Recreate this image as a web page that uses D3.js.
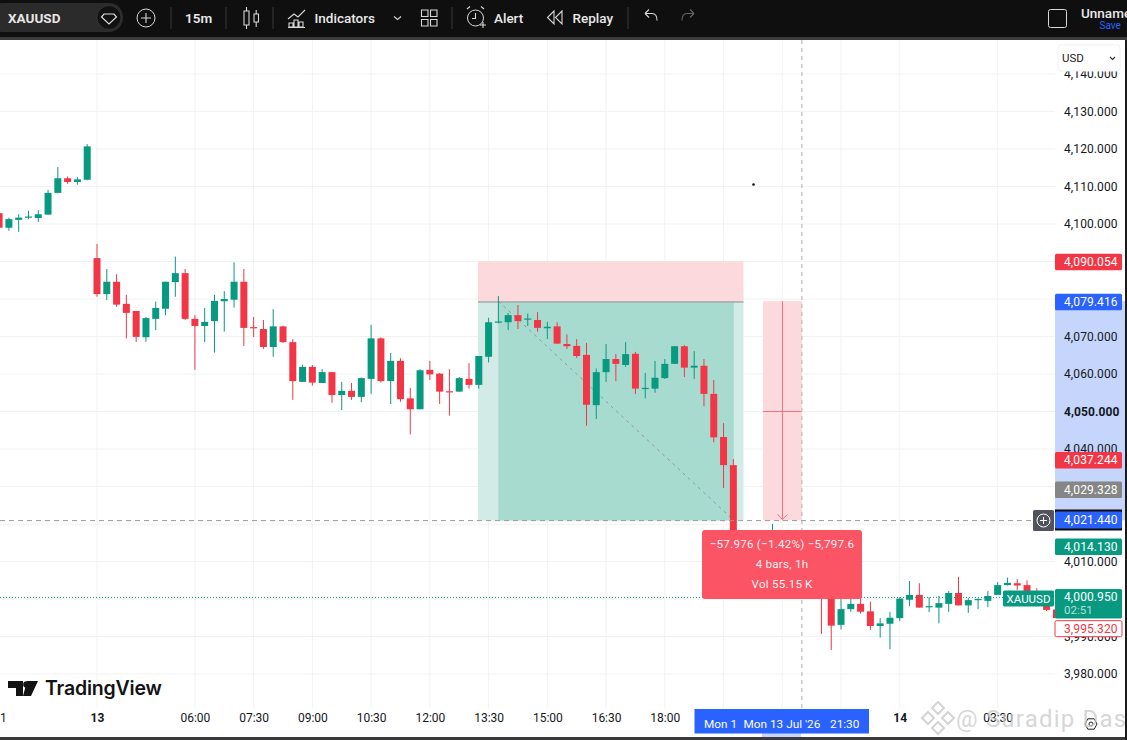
<!DOCTYPE html>
<html>
<head>
<meta charset="utf-8">
<script src="https://cdn.jsdelivr.net/npm/d3@7"></script>
<style>
    html, body { margin: 0; padding: 0; background: #fff; overflow: hidden; }
    svg { display: block; font-family: Roboto, sans-serif; }
</style>
</head>
<body>
<script>
// 15m bars, first one is bar -10 (bar 0 is the "13" session open)
var firstBar = -10;
var opens = [
    4102.9,4099.0,4101.1,4101.7,4101.6,4102.5,4108.3,4112.2,4111.2,4111.8,
    4090.9,4081.3,4084.6,4078.7,4076.8,4069.8,4074.7,4077.4,4084.5,4086.9,
    4074.7,4072.8,4074.1,4079.4,4079.8,4084.6,4072.5,4072.0,4067.2,4072.7,
    4068.5,4057.9,4061.9,4057.6,4060.5,4054.4,4055.5,4053.9,4058.7,4069.5,
    4058.1,4063.5,4053.5,4050.6,4061.1,4060.1,4055.4,4055.3,4058.7,4057.1,
    4064.6,4073.7,4073.8,4075.7,4074.5,4074.4,4072.2,4072.7,4068.0,4067.5,
    4065.1,4051.7,4060.5,4064.0,4062.4,4065.4,4056.1,4056.1,4058.9,4062.7,
    4067.4,4061.7,4062.2,4054.7,4043.2,4035.7,4014.0,4010.0,4012.0,4013.0,
    4014.0,4009.0,4006.0,4009.0,4005.0,4001.0,3993.1,3997.3,3998.7,3996.7,
    3992.8,3993.4,3994.9,3999.8,4001.1,3997.9,3997.7,3998.7,4001.6,3998.3,
    3999.8,3999.5,4001.1,4003.7,4004.2,4003.7,4001.3,3998.4,3997.2
];
var highs = [
    4103.0,4101.7,4102.6,4103.5,4103.7,4109.1,4115.2,4112.7,4112.5,4121.3,
    4094.7,4088.0,4086.6,4081.1,4076.8,4075.2,4079.3,4084.6,4091.3,4088.0,
    4075.7,4077.6,4081.1,4082.1,4089.8,4088.0,4075.2,4074.4,4077.3,4072.9,
    4069.3,4062.5,4062.4,4061.3,4060.5,4057.9,4057.6,4059.1,4073.1,4069.8,
    4065.6,4064.2,4056.3,4061.3,4063.5,4060.3,4061.3,4059.2,4062.9,4064.8,
    4075.0,4080.8,4076.3,4078.4,4076.1,4076.5,4073.9,4073.8,4070.6,4069.3,
    4068.3,4061.5,4068.0,4065.3,4068.5,4065.9,4060.3,4063.5,4064.0,4067.5,
    4067.7,4066.1,4064.0,4058.4,4046.9,4037.3,4016.0,4014.0,4017.0,4020.0,
    4016.0,4012.0,4011.0,4011.0,4008.0,4003.0,4000.0,4001.0,4001.0,3999.3,
    3994.9,3996.5,4000.5,4004.8,4004.2,4000.5,4000.8,4002.1,4005.9,4000.2,
    4000.2,4002.1,4004.5,4005.7,4005.3,4005.0,4002.9,3999.7,3997.5
];
var lows = [
    4099.0,4098.2,4097.9,4101.3,4100.5,4102.5,4108.2,4110.7,4110.5,4111.7,
    4080.6,4079.7,4077.9,4069.5,4068.5,4068.6,4071.7,4075.7,4080.6,4074.4,
    4061.1,4068.5,4065.7,4071.3,4077.7,4067.5,4069.9,4066.7,4064.6,4068.3,
    4053.1,4057.9,4056.9,4057.6,4052.3,4050.4,4053.1,4052.5,4054.7,4057.7,
    4052.0,4052.6,4043.9,4050.6,4058.4,4052.0,4048.9,4055.3,4056.1,4056.1,
    4063.1,4073.5,4071.7,4072.0,4072.8,4071.3,4069.3,4068.1,4066.7,4064.3,
    4046.2,4048.0,4057.9,4058.1,4061.9,4054.7,4053.5,4055.0,4058.7,4062.7,
    4059.2,4058.7,4051.4,4041.8,4029.6,4008.0,4008.0,4006.0,4009.0,4008.0,
    4007.0,4004.0,4003.0,4003.0,3990.7,3986.4,3991.9,3996.6,3996.1,3991.7,
    3989.7,3986.6,3994.1,3998.1,3997.7,3996.5,3993.5,3996.6,3998.3,3996.3,
    3997.3,3997.8,4001.1,4003.6,4002.4,4000.8,3999.2,3996.8,3993.0
];
var closes = [
    4099.0,4101.3,4101.7,4102.0,4102.6,4108.3,4112.2,4111.2,4111.9,4120.7,
    4081.3,4084.6,4078.5,4076.3,4069.9,4074.9,4077.6,4084.6,4086.9,4074.7,
    4072.8,4073.9,4079.5,4080.0,4084.6,4072.3,4072.2,4067.2,4072.7,4068.5,
    4058.1,4061.9,4057.7,4060.5,4054.4,4055.5,4053.9,4058.9,4069.5,4058.1,
    4063.5,4053.3,4050.6,4061.0,4059.9,4055.3,4055.2,4058.9,4057.1,4064.8,
    4073.8,4074.0,4075.7,4074.1,4074.8,4072.3,4072.6,4068.1,4067.4,4064.8,
    4051.8,4060.5,4064.0,4062.7,4065.3,4056.1,4056.3,4059.0,4062.7,4067.4,
    4061.7,4062.2,4054.7,4043.1,4035.7,4010.0,4010.0,4012.0,4015.0,4016.0,
    4009.0,4006.0,4009.0,4005.0,4001.0,3992.9,3997.3,3998.7,3996.6,3992.8,
    3993.5,3995.0,4000.1,4001.1,3997.7,3998.1,3998.9,4001.6,3998.3,3999.7,
    4000.0,4000.8,4003.7,4004.3,4003.6,4001.3,3999.7,3997.1,3994.9
];

var priceTicks = [4140,4130,4120,4110,4100,4090,4080,4070,4060,4050,4040,4030,4020,4010,4000,3990,3980];
var timeBars = [-10,0,10,16,22,28,34,40,46,52,58,64,70,76,82,92];
var timeLabels = ['1','13','06:00','07:30','09:00','10:30','12:00','13:30','15:00','16:30','18:00','','','','14','03:30'];

// long position drawing and price labels
var takeProfit = 4021.44, entry = 4079.416, stop = 4090.054;
var positionBars = [-2 + 40.1, 65.8];

var W = 1127, H = 740, paneRight = 1055, paneTop = 40, paneBottom = 708;
var green = '#089981', red = '#f23645', blue = '#2962ff';

var x = d3.scaleLinear().domain([0, 98]).range([97, 1056.4]);
var y = d3.scaleLinear().domain([3980, 4130]).range([674, 111.5]);
var fmt = d3.format(',.3f');

var svg = d3.select('body').append('svg').attr('width', W).attr('height', H);
svg.append('rect').attr('width', W).attr('height', H).attr('fill', '#fff');

svg.append('defs').append('clipPath').attr('id', 'pane')
    .append('rect').attr('x', 0).attr('y', paneTop).attr('width', paneRight).attr('height', paneBottom - paneTop);

var pane = svg.append('g').attr('clip-path', 'url(#pane)');

// grid
pane.selectAll('.hgrid').data(priceTicks).enter().append('line')
    .attr('x1', 0).attr('x2', paneRight)
    .attr('y1', function(d){ return y(d) }).attr('y2', function(d){ return y(d) })
    .attr('stroke', '#f2f2f2').attr('stroke-width', 1);
pane.selectAll('.vgrid').data(timeBars).enter().append('line')
    .attr('x1', function(d){ return x(d) }).attr('x2', function(d){ return x(d) })
    .attr('y1', paneTop).attr('y2', paneBottom)
    .attr('stroke', '#f2f2f2').attr('stroke-width', 1);

// position box
var zoneLeft = 478, zoneRight = 743.5, innerLeft = x(41), innerRight = x(65) + 0.5;
var zoneBottom = y(takeProfit) + 1.8;
pane.append('rect').attr('x', zoneLeft).attr('y', y(stop)).attr('width', zoneRight - zoneLeft)
    .attr('height', y(entry) - y(stop)).attr('fill', '#fcd9dc');
pane.append('rect').attr('x', zoneLeft).attr('y', y(entry)).attr('width', zoneRight - zoneLeft)
    .attr('height', zoneBottom - y(entry)).attr('fill', '#d2ebe6');
pane.append('rect').attr('x', innerLeft).attr('y', y(entry)).attr('width', innerRight - innerLeft)
    .attr('height', zoneBottom - y(entry)).attr('fill', '#a8dbd0');
pane.append('line').attr('x1', zoneLeft).attr('x2', zoneRight)
    .attr('y1', y(entry) + 0.8).attr('y2', y(entry) + 0.8)
    .attr('stroke', '#a9a9a9').attr('stroke-width', 1.3);
pane.append('line').attr('x1', innerLeft).attr('x2', innerRight)
    .attr('y1', y(entry)).attr('y2', zoneBottom)
    .attr('stroke', '#8f9a98').attr('stroke-width', 1).attr('stroke-dasharray', '3,4');

// measure tool
var measureLeft = 763, measureRight = 802, measureMid = (measureLeft + measureRight) / 2;
pane.append('rect').attr('x', measureLeft).attr('y', y(entry)).attr('width', measureRight - measureLeft)
    .attr('height', zoneBottom - y(entry)).attr('fill', '#fcd9dc');
pane.append('line').attr('x1', measureLeft).attr('x2', measureRight)
    .attr('y1', y(4050)).attr('y2', y(4050)).attr('stroke', '#f0747f').attr('stroke-width', 1);
pane.append('line').attr('x1', measureMid).attr('x2', measureMid)
    .attr('y1', y(entry)).attr('y2', zoneBottom).attr('stroke', '#f0747f').attr('stroke-width', 1);
pane.append('path')
    .attr('d', d3.line()([[measureMid - 5, zoneBottom - 6], [measureMid, zoneBottom - 1], [measureMid + 5, zoneBottom - 6]]))
    .attr('fill', 'none').attr('stroke', '#f0747f').attr('stroke-width', 1);

// candles
var bars = d3.range(opens.length);
var candle = pane.selectAll('.bar').data(bars).enter().append('g').attr('class', 'bar');
function barColor(i) { return closes[i] >= opens[i] ? green : red }
candle.append('line')
    .attr('x1', function(i){ return x(i + firstBar) }).attr('x2', function(i){ return x(i + firstBar) })
    .attr('y1', function(i){ return y(highs[i]) }).attr('y2', function(i){ return y(lows[i]) })
    .attr('stroke', barColor).attr('stroke-width', 1);
candle.append('rect')
    .attr('x', function(i){ return x(i + firstBar) - 3.5 })
    .attr('width', 7)
    .attr('y', function(i){ return y(Math.max(opens[i], closes[i])) })
    .attr('height', function(i){ return Math.max(1.2, Math.abs(y(opens[i]) - y(closes[i]))) })
    .attr('fill', barColor);

// last price line and crosshair
var crossY = zoneBottom + 0.2, crossX = x(72);
pane.append('line').attr('x1', 0).attr('x2', paneRight)
    .attr('y1', y(4000.95) + 2).attr('y2', y(4000.95) + 2)
    .attr('stroke', green).attr('stroke-width', 1).attr('stroke-dasharray', '1,2');
pane.append('line').attr('x1', crossX).attr('x2', crossX)
    .attr('y1', paneTop).attr('y2', paneBottom)
    .attr('stroke', '#c4c4c4').attr('stroke-width', 1.4).attr('stroke-dasharray', '4,4');
pane.append('line').attr('x1', 0).attr('x2', 1033)
    .attr('y1', crossY).attr('y2', crossY)
    .attr('stroke', '#9a9a9a').attr('stroke-width', 1).attr('stroke-dasharray', '5,4');

svg.append('circle').attr('cx', 753.5).attr('cy', 184.5).attr('r', 1.3).attr('fill', '#111');

// measure tooltip
var tip = svg.append('g');
tip.append('rect').attr('x', 702).attr('y', 530).attr('width', 160).attr('height', 69)
    .attr('rx', 3).attr('fill', '#fb5464');
['\u221257.976 (\u22121.42%) \u22125,797.6', '4 bars, 1h', 'Vol 55.15\u2009K'].forEach(function(t, k){
    tip.append('text').attr('x', 782).attr('y', 548 + k * 20).attr('text-anchor', 'middle')
        .attr('font-size', 11.6).attr('letter-spacing', 0.25).attr('fill', '#fff').attr('fill-opacity', 0.95).text(t);
});

// price axis
svg.append('rect').attr('x', paneRight).attr('y', paneTop).attr('width', W - paneRight).attr('height', paneBottom - paneTop + 30).attr('fill', '#fff');
svg.append('rect').attr('x', paneRight).attr('y', y(entry)).attr('width', 70).attr('height', zoneBottom - y(entry)).attr('fill', '#c5d5fb');

var axisY = d3.axisRight(y).tickValues(priceTicks).tickSize(0).tickPadding(9).tickFormat(fmt);
var $y = svg.append('g').attr('transform', 'translate(' + paneRight + ',0)').call(axisY);
$y.select('.domain').remove();
$y.selectAll('text').attr('font-size', 12).attr('font-family', 'Roboto, sans-serif').attr('fill', '#131722')
    .attr('letter-spacing', 0.1)
    .attr('font-weight', function(d){ return d === 4050 ? 700 : 400 });

function priceLabel(cy, h, fill, txt, color, stroke) {
    svg.append('rect').attr('x', paneRight).attr('y', cy - h / 2).attr('width', 67).attr('height', h)
        .attr('rx', 1.5).attr('fill', fill).attr('stroke', stroke || 'none');
    svg.append('text').attr('x', 1064).attr('y', cy + 4.3).attr('font-size', 12).attr('letter-spacing', 0.1)
        .attr('fill', color || '#fff').text(txt);
}
var labelPrices = [4090.054, 4079.416, 4037.244, 4029.328, 4014.130];
var labelFills = [red, blue, red, '#868686', green];
labelPrices.forEach(function(p, k){
    priceLabel(y(p) + 0.8, 16.5, labelFills[k], fmt(p));
});

// crosshair price + plus button
svg.append('rect').attr('x', paneRight).attr('y', 509.5).attr('width', 67).attr('height', 21).attr('fill', '#0b0b0b');
priceLabel(520, 17, blue, fmt(takeProfit));
svg.append('rect').attr('x', 1033).attr('y', 510).attr('width', 21).attr('height', 21).attr('rx', 1.5).attr('fill', '#50535e');
svg.append('circle').attr('cx', 1043.5).attr('cy', 520.5).attr('r', 6.5).attr('fill', 'none').attr('stroke', '#fff').attr('stroke-width', 1);
svg.append('path').attr('d', 'M1040 520.5H1047M1043.5 517V524').attr('stroke', '#fff').attr('stroke-width', 1);

// last price label
svg.append('rect').attr('x', paneRight).attr('y', 589).attr('width', 67).attr('height', 29.5).attr('rx', 1.5).attr('fill', green);
svg.append('text').attr('x', 1064).attr('y', 601).attr('font-size', 12).attr('letter-spacing', 0.1).attr('fill', '#fff').text(fmt(4000.95));
svg.append('text').attr('x', 1064).attr('y', 614).attr('font-size', 11.5).attr('fill', '#fff').attr('fill-opacity', 0.7).text('02:51');
svg.append('rect').attr('x', 1003).attr('y', 590.5).attr('width', 51).attr('height', 16).attr('rx', 1.5).attr('fill', green);
svg.append('text').attr('x', 1028.5).attr('y', 602.5).attr('text-anchor', 'middle').attr('font-size', 11.5).attr('fill', '#fff').text('XAUUSD');
priceLabel(628.7, 16, '#fff', fmt(3995.32), red, red);

// USD dropdown
svg.append('rect').attr('x', 1058).attr('y', 45).attr('width', 62).attr('height', 26).attr('rx', 3)
    .attr('fill', '#fff').attr('stroke', '#f1f1f1');
svg.append('text').attr('x', 1062).attr('y', 62).attr('font-size', 11.5).attr('fill', '#222').text('USD');
svg.append('path').attr('d', 'M1110 57l2.5 2.5l2.5-2.5').attr('fill', 'none').attr('stroke', '#333').attr('stroke-width', 1.1);

// time axis
var axisX = d3.axisBottom(x).tickValues(timeBars).tickSize(0).tickPadding(0)
    .tickFormat(function(d){ return timeLabels[timeBars.indexOf(d)] });
var $x = svg.append('g').attr('transform', 'translate(0,' + (paneBottom + 5) + ')').call(axisX);
$x.select('.domain').remove();
$x.selectAll('text').attr('font-size', 12).attr('font-family', 'Roboto, sans-serif').attr('fill', '#131722')
    .attr('font-weight', function(d){ return d === 0 || d === 82 ? 700 : 400 })
    .attr('text-anchor', function(d){ return d === -10 ? 'start' : 'middle' })
    .attr('dx', function(d){ return d === -10 ? 0.5 : 0 });

svg.append('rect').attr('x', 762).attr('y', 733).attr('width', 39).attr('height', 4).attr('fill', '#c5d5fb');
svg.append('rect').attr('x', 694.5).attr('y', 709).attr('width', 174.5).attr('height', 24.5).attr('fill', blue);
svg.append('text').attr('x', 704).attr('y', 727.5).attr('font-size', 11.8).attr('fill', '#fff').text('Mon 1');
svg.append('text').attr('x', 743.5).attr('y', 727.5).attr('font-size', 11.8).attr('fill', '#fff').text("Mon 13 Jul '26");
svg.append('text').attr('x', 830).attr('y', 727.5).attr('font-size', 11.8).attr('fill', '#fff').text('21:30');

// settings icon
svg.append('path').attr('d', 'M1085 724l2.8-5.2h6.4l2.8 5.2l-2.8 5.2h-6.4z').attr('fill', 'none').attr('stroke', '#222').attr('stroke-width', 1);
svg.append('circle').attr('cx', 1091).attr('cy', 724).attr('r', 2).attr('fill', 'none').attr('stroke', '#222').attr('stroke-width', 1);

// TradingView logo
svg.append('path').attr('d', 'M8 681H23V696H16V688H8ZM27 681H38L31 696H23Z').attr('fill', '#131313');
svg.append('circle').attr('cx', 26.5).attr('cy', 684.5).attr('r', 3.3).attr('fill', '#131313');
svg.append('text').attr('x', 45).attr('y', 695).attr('font-family', 'Inter, sans-serif').attr('font-size', 19.5)
    .attr('font-weight', 600).attr('letter-spacing', -0.2).attr('fill', '#131313').text('TradingView');

// watermark
var wm = svg.append('g');
wm.append('path').attr('d', 'M938 702l6 6l-6 6l-6-6zM928 712l6 6l-6 6l-6-6zM948 712l6 6l-6 6l-6-6zM938 722l6 6l-6 6l-6-6z')
    .attr('fill', 'none').attr('stroke', '#d4d4d4').attr('stroke-width', 2);
wm.append('text').attr('x', 956).attr('y', 727).attr('font-family', 'Roboto, sans-serif').attr('font-size', 24)
    .attr('letter-spacing', 1.2).attr('fill', '#c9c9c9').attr('fill-opacity', 0.75).text('@ Suradip Das');

// frame
svg.append('rect').attr('x', 0).attr('y', 737).attr('width', W).attr('height', 3).attr('fill', '#3a3a3a');
svg.append('rect').attr('x', 1125).attr('y', 37).attr('width', 2).attr('height', H - 37).attr('fill', '#1a1a1a');

// toolbar
var bar = svg.append('g').attr('font-family', 'Roboto, sans-serif');
bar.append('rect').attr('width', W).attr('height', 37).attr('fill', '#0f0f0f');
bar.append('rect').attr('y', 37).attr('width', W).attr('height', 3).attr('fill', '#3b3b3b');
bar.append('rect').attr('x', -12).attr('y', 3).attr('width', 135).attr('height', 29).attr('rx', 14).attr('fill', '#2b2b2b');
bar.append('circle').attr('cx', 109).attr('cy', 17.5).attr('r', 12).attr('fill', '#111').attr('stroke', '#333');
bar.append('path').attr('d', 'M104 14h10l2.5 3l-7.5 7l-7.5-7z').attr('fill', 'none').attr('stroke', '#ddd').attr('stroke-width', 1.2);
bar.append('text').attr('x', 8).attr('y', 22.5).attr('font-size', 13.5).attr('font-weight', 700).attr('fill', '#e6e6e6').text('XAUUSD');

var iconColor = '#d8d8d8';
function tbText(t, tx, size, weight) {
    bar.append('text').attr('x', tx).attr('y', 22.5).attr('font-size', size || 13.5).attr('font-weight', weight || 500).attr('fill', '#e8e8e8').text(t);
}
function tbPath(d, sw, col) {
    bar.append('path').attr('d', d).attr('fill', 'none').attr('stroke', col || iconColor).attr('stroke-width', sw || 1.1);
}
bar.append('circle').attr('cx', 146).attr('cy', 18).attr('r', 9).attr('fill', 'none').attr('stroke', iconColor);
tbPath('M141 18H151M146 13V23');
[171, 226, 273, 452, 628].forEach(function(sx){
    bar.append('line').attr('x1', sx).attr('x2', sx).attr('y1', 7).attr('y2', 29).attr('stroke', '#3a3a3a');
});
tbText('15m', 185, 13.5, 600);
// candle icon
tbPath('M244 11h5v14h-5zM246.5 7v4M246.5 25v4M254 14h4.5v8H254zM256.2 10v4M256.2 22v5');
// indicators icon
tbPath('M288 19l6-5l4 3l7-7M289 27v-4h4v4zM294 27v-7h4v7zM299 27v-5h4v5zM288 27.5h17');
tbText('Indicators', 314.5);
tbPath('M394 16.5l3.5 3l3.5-3');
// layout icon
['M421.5 10h6.5v6.5h-6.5z', 'M430.5 10h6.5v6.5h-6.5z', 'M421.5 19.5h6.5v6.5h-6.5z', 'M430.5 19.5h6.5v6.5h-6.5z'].forEach(function(d){ tbPath(d) });
// alert icon
bar.append('circle').attr('cx', 475.5).attr('cy', 18).attr('r', 8).attr('fill', 'none').attr('stroke', iconColor);
tbPath('M475.5 13v5.5h-3.5M467 9l3-2.5M484 9l-3-2.5M480 25h6M483 22v6');
tbText('Alert', 494);
// replay icon
tbPath('M554 11l-6.5 6.5l6.5 6.5zM562 11l-6.5 6.5l6.5 6.5z');
tbText('Replay', 572.5);
tbPath('M645 13.5l4-4M645 13.5l4 4M645 13.5h7c3.5 0 5 3 5 7');
tbPath('M694 13.5l-4-4M694 13.5l-4 4M694 13.5h-7c-3.5 0-5 3-5 7', 1.1, '#666');
bar.append('rect').attr('x', 1048.5).attr('y', 9.5).attr('width', 18).attr('height', 18).attr('rx', 2).attr('fill', 'none').attr('stroke', iconColor);
tbText('Unnamed', 1081, 13.5, 500);
bar.select('text:last-child').attr('y', 18);
bar.append('text').attr('x', 1099.5).attr('y', 29).attr('font-size', 10).attr('fill', '#2962ff').text('Save');
</script>
</body>
</html>
